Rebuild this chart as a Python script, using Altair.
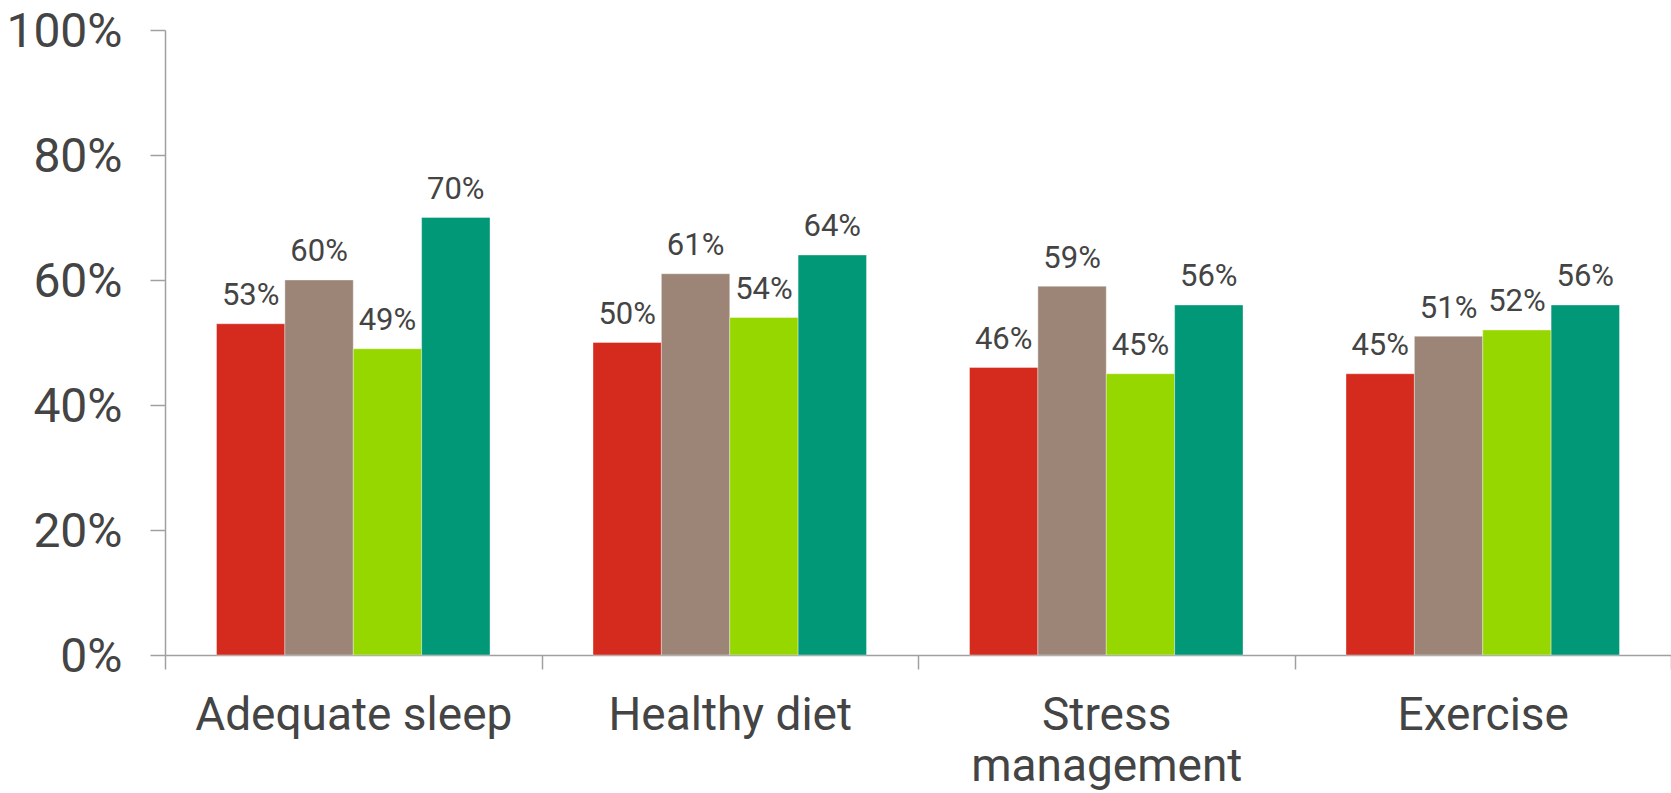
import altair as alt
import pandas as pd

categories = ["Adequate sleep", "Healthy diet", "Stress management", "Exercise"]
series = ["Group A", "Group B", "Group C", "Group D"]
group_a = [53, 50, 46, 45]
group_b = [60, 61, 59, 51]
group_c = [49, 54, 45, 52]
group_d = [70, 64, 56, 56]
colors = ["#D52B1E", "#9C8577", "#97D700", "#009877"]

rows = []
for s, vals in zip(series, [group_a, group_b, group_c, group_d]):
    for c, v in zip(categories, vals):
        rows.append({"category": c, "series": s, "value": v, "label": f"{v}%"})
df = pd.DataFrame(rows)

FONT = "Roboto"
TEXT = "#444444"
AXIS = "#A0A0A0"

x_axis = alt.Axis(
    title=None,
    labelAngle=0,
    labelFont=FONT,
    labelFontSize=46,
    labelColor=TEXT,
    labelPadding=24,
    labelLineHeight=51,
    labelLimit=0,
    labelExpr="datum.label == 'Stress management' ? ['Stress', 'management'] : datum.label",
    labelBaseline="top",
    tickBand="extent",
    tickSize=14,
    tickColor=AXIS,
    tickWidth=1.5,
    domainColor=AXIS,
    domainWidth=1.5,
    grid=False,
)
y_axis = alt.Axis(
    title=None,
    values=[0, 20, 40, 60, 80, 100],
    labelExpr="datum.value + '%'",
    labelFont=FONT,
    labelFontSize=48,
    labelColor=TEXT,
    labelPadding=28,
    labelOffset=2,
    tickSize=15,
    tickColor=AXIS,
    tickWidth=1.5,
    domainColor=AXIS,
    domainWidth=1.5,
    grid=False,
)

x = alt.X("category:N", sort=categories,
          scale=alt.Scale(paddingInner=0, paddingOuter=0), axis=x_axis)
y = alt.Y("value:Q", scale=alt.Scale(domain=[0, 100], nice=False), axis=y_axis)
xo = alt.XOffset("series:N", sort=series, scale=alt.Scale(paddingInner=0, paddingOuter=0.7533))

base = alt.Chart(df)

bars = base.mark_bar(stroke="#ffffff", strokeWidth=0.6, strokeOpacity=0.6).encode(
    x=x,
    xOffset=xo,
    y=y,
    color=alt.Color("series:N", sort=series, scale=alt.Scale(domain=series, range=colors), legend=None),
)

labels = base.mark_text(
    font=FONT, fontSize=31, color=TEXT, baseline="alphabetic", align="center", dy=-18.7
).encode(
    x=x,
    xOffset=xo,
    y=y,
    text="label:N",
)

chart = (
    alt.layer(bars, labels)
    .properties(
        width=1506,
        height=625,
        background="white",
        autosize=alt.AutoSizeParams(type="none"),
        padding={"left": 165, "top": 30, "right": 0, "bottom": 138},
    )
    .configure_view(strokeWidth=0, stroke="transparent")
    .configure_axis(grid=False)
)

chart.save("out.html", embed_options={"renderer": "svg", "actions": False})
